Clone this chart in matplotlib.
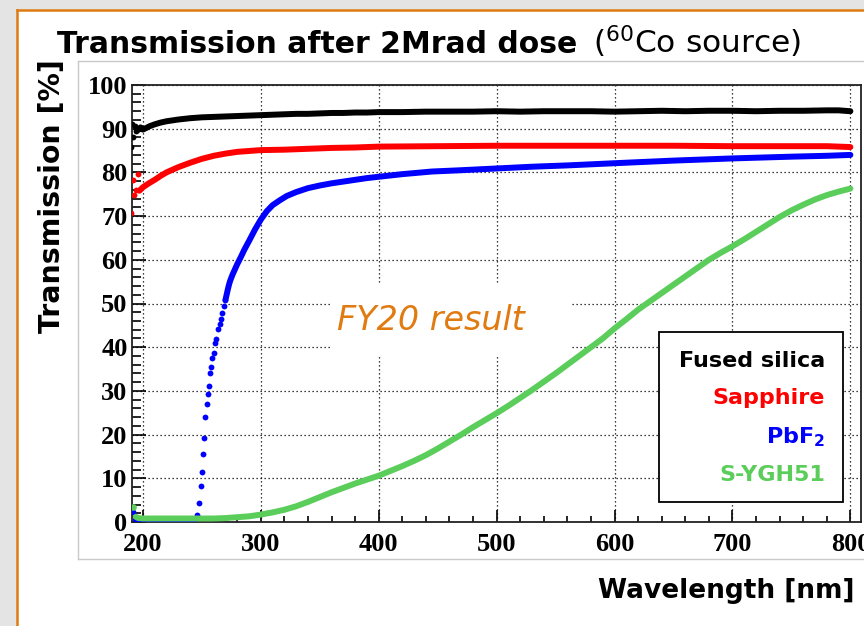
import matplotlib
matplotlib.use('Agg')
import matplotlib.pyplot as plt
from matplotlib.patches import Rectangle
from matplotlib.lines import Line2D
from matplotlib.ticker import MultipleLocator

# ---------------- data ----------------
silica_scatter_wl = [190, 191, 192, 193, 194]
silica_scatter_T = [85.9, 91.0, 88.0, 90.6, 89.4]
silica_wl = [196, 198, 200, 203, 206, 210, 215, 220, 225, 230, 240, 250, 260, 270, 280, 290,
             300, 310, 320, 330, 340, 350, 360, 370, 380, 390, 400, 420, 440, 460, 480, 500,
             520, 540, 560, 580, 600, 620, 640, 660, 680, 700, 720, 740, 760, 780, 790, 800]
silica_T = [89.7, 90.3, 89.8, 90.2, 90.6, 91.0, 91.4, 91.7, 91.9, 92.1, 92.4, 92.6, 92.7, 92.8,
            92.9, 93.0, 93.1, 93.2, 93.3, 93.4, 93.4, 93.5, 93.6, 93.6, 93.7, 93.7, 93.8, 93.8,
            93.9, 93.9, 93.9, 94.0, 93.9, 94.0, 94.0, 94.0, 93.9, 94.0, 94.1, 94.0, 94.1, 94.1,
            94.0, 94.1, 94.1, 94.2, 94.2, 94.0]

sapphire_scatter_wl = [190, 191.5, 192.5, 194, 196]
sapphire_scatter_T = [70.7, 78.3, 74.8, 76.0, 79.6]
sapphire_wl = [197, 200, 205, 210, 215, 220, 230, 240, 250, 260, 270, 280, 290, 300, 320, 340,
               360, 380, 400, 450, 500, 550, 600, 650, 700, 750, 780, 800]
sapphire_T = [75.8, 76.6, 77.5, 78.3, 79.2, 80.0, 81.2, 82.2, 83.1, 83.8, 84.3, 84.7, 84.9, 85.1,
              85.2, 85.4, 85.6, 85.7, 85.9, 86.0, 86.1, 86.1, 86.1, 86.1, 86.0, 86.0, 86.0, 85.8]

pbf2_scatter_wl = [192, 246, 247.5, 249, 250, 251, 252, 253, 254, 255, 256, 257, 258, 259,
                   260, 261, 262, 263.5, 265, 266, 267, 268.5, 270]
pbf2_scatter_T = [2.4, 1.6, 4.3, 8.2, 11.5, 15.6, 19.3, 24.1, 26.9, 29.3, 31.2, 34.0, 35.5, 37.5,
                  38.6, 40.9, 41.9, 44.1, 45.3, 46.4, 47.9, 49.4, 50.8]
pbf2_low_wl = [194, 200, 210, 220, 230, 240, 245]
pbf2_low_T = [0.5, 0.5, 0.5, 0.5, 0.5, 0.5, 0.7]
pbf2_wl = [270, 271, 272, 273, 274, 276, 278, 280, 283, 286, 290, 295, 300, 305, 310, 316, 322,
           330, 340, 350, 360, 370, 380, 390, 400, 420, 445, 470, 500, 530, 560, 600, 650,
           700, 750, 780, 800]
pbf2_T = [50.8, 52.0, 53.2, 54.3, 55.2, 56.6, 57.8, 59.0, 60.6, 62.3, 64.3, 66.9, 69.2, 71.1,
          72.5, 73.6, 74.6, 75.5, 76.4, 77.0, 77.5, 77.9, 78.3, 78.7, 79.0, 79.6, 80.2,
          80.5, 80.9, 81.3, 81.6, 82.1, 82.7, 83.2, 83.6, 83.8, 84.0]

sygh_scatter_wl = [192]
sygh_scatter_T = [3.5]
sygh_wl = [194, 196, 200, 220, 240, 260, 270, 280, 290, 300, 310, 320, 330, 340, 350, 360, 370,
           380, 390, 400, 410, 420, 430, 440, 450, 460, 470, 480, 490, 500, 510, 520, 530, 540,
           550, 560, 570, 580, 590, 600, 610, 620, 630, 640, 650, 660, 670, 680, 690, 700, 710,
           720, 730, 740, 750, 760, 770, 780, 790, 800]
sygh_T = [1.2, 0.9, 0.8, 0.8, 0.8, 0.8, 0.9, 1.1, 1.3, 1.7, 2.2, 2.8, 3.6, 4.6, 5.7, 6.8, 7.8,
          8.8, 9.7, 10.6, 11.7, 12.8, 14.0, 15.3, 16.8, 18.4, 20.0, 21.7, 23.3, 24.9, 26.6, 28.4,
          30.2, 32.1, 34.0, 36.0, 38.0, 40.0, 42.0, 44.3, 46.4, 48.6, 50.5, 52.4, 54.3, 56.2,
          58.1, 60.0, 61.6, 63.1, 64.7, 66.4, 68.1, 69.8, 71.3, 72.6, 73.8, 74.8, 75.6, 76.3]

legend_labels = ['Fused silica', 'Sapphire', 'PbF$_\\mathbf{2}$', 'S-YGH51']
colors = ['#000000', '#ff0000', '#0000ff', '#5acd5a']
x_ticks = [200, 300, 400, 500, 600, 700, 800]
y_ticks = [0, 10, 20, 30, 40, 50, 60, 70, 80, 90, 100]

W, H = 864, 626


def fx(px):
    return px / W


def fy(py):
    return 1 - py / H


fig = plt.figure(figsize=(W / 100, H / 100), dpi=100)
fig.patch.set_facecolor('white')

# slide background and frame
fig.add_artist(Rectangle((0, 0), 1, 1, transform=fig.transFigure, facecolor='#e4e4e4',
                         edgecolor='none', zorder=-10))
fig.add_artist(Rectangle((fx(17), 0), 1, fy(10), transform=fig.transFigure, facecolor='white',
                         edgecolor='none', zorder=-9))
orange = '#e07b12'
fig.add_artist(Line2D([fx(17), fx(17)], [0, fy(10)], color=orange, lw=1.8,
                      transform=fig.transFigure))
fig.add_artist(Line2D([fx(17), 1], [fy(10), fy(10)], color=orange, lw=1.8,
                      transform=fig.transFigure))
gray = '#c9c9c9'
fig.add_artist(Line2D([fx(78), 1], [fy(61), fy(61)], color=gray, lw=1, transform=fig.transFigure))
fig.add_artist(Line2D([fx(78), 1], [fy(559), fy(559)], color=gray, lw=1, transform=fig.transFigure))
fig.add_artist(Line2D([fx(78), fx(78)], [fy(61), fy(559)], color=gray, lw=1,
                      transform=fig.transFigure))

ax = fig.add_axes([fx(131.7), fy(522), (861 - 131.7) / W, (522 - 85) / H])
ax.set_xlim(190.5, 809)
ax.set_ylim(0, 100)
ax.set_axisbelow(True)

ms = 4.2
lw = 4.3
series = [
    (silica_scatter_wl, silica_scatter_T, silica_wl, silica_T),
    (sapphire_scatter_wl, sapphire_scatter_T, sapphire_wl, sapphire_T),
    (pbf2_scatter_wl, pbf2_scatter_T, pbf2_wl, pbf2_T),
]
ax.plot(pbf2_low_wl, pbf2_low_T, color=colors[2], lw=lw, solid_capstyle='round', zorder=3)
for (swl, sT, wl, T), c in zip(series, colors[:3]):
    ax.plot(wl, T, color=c, lw=lw, solid_capstyle='round', zorder=3)
    ax.plot(swl, sT, 'o', color=c, ms=ms, mec='none', zorder=3)
ax.plot(sygh_wl, sygh_T, color=colors[3], lw=lw, solid_capstyle='round', zorder=4)
ax.plot(sygh_scatter_wl, sygh_scatter_T, 'o', color=colors[3], ms=ms + 0.6, mec='none', zorder=4)

ax.grid(True, which='major', color='black', linestyle=(0, (1, 2.2)), lw=0.9)
ax.xaxis.set_major_locator(MultipleLocator(100))
ax.xaxis.set_minor_locator(MultipleLocator(20))
ax.yaxis.set_major_locator(MultipleLocator(10))
ax.yaxis.set_minor_locator(MultipleLocator(2))
ax.set_xticks(x_ticks)
ax.set_yticks(y_ticks)
ax.set_xticklabels([str(v) for v in x_ticks])
ax.set_yticklabels([str(v) for v in y_ticks])
ax.tick_params(axis='both', which='both', direction='in', top=False, right=False, width=1.2,
               colors='black')
ax.tick_params(axis='x', which='major', length=8.5, pad=8)
ax.tick_params(axis='x', which='minor', length=4.5)
ax.tick_params(axis='y', which='major', length=10, pad=3)
ax.tick_params(axis='y', which='minor', length=6.5)
for lab in ax.get_xticklabels() + ax.get_yticklabels():
    lab.set_fontfamily('Liberation Serif')
    lab.set_fontweight('bold')
    lab.set_fontsize(19)
for s in ax.spines.values():
    s.set_linewidth(1.3)
    s.set_color('#222222')

# FY20 result pave
ax.add_patch(Rectangle(((330 - 131.7) / 729.3, (522 - 357) / 437), (570 - 330) / 729.3,
                       (357 - 285) / 437, transform=ax.transAxes, facecolor='white',
                       edgecolor='none', zorder=1.5))
ax.text((337 - 131.7) / 729.3, (522 - 330) / 437, 'FY20 result', transform=ax.transAxes,
        fontsize=24, style='italic', color=orange, ha='left', va='baseline',
        family='DejaVu Sans', zorder=5)

# legend box
ax.add_patch(Rectangle(((658.7 - 131.7) / 729.3, (522 - 502) / 437), (842.7 - 658.7) / 729.3,
                       (502 - 332) / 437, transform=ax.transAxes, facecolor='white',
                       edgecolor='black', lw=1.3, zorder=6))
leg_y = [361, 398, 437, 475]
for lab, c, py in zip(legend_labels, colors, leg_y):
    ax.text((825 - 131.7) / 729.3, (522 - py) / 437, lab, transform=ax.transAxes,
            fontsize=16, fontweight='bold', color=c, ha='right', va='center',
            family='DejaVu Sans', zorder=7)

# titles and axis labels
t1 = fig.text(fx(57), fy(53), 'Transmission after 2Mrad dose', fontsize=21.5,
              fontweight='bold', ha='left', va='baseline', family='DejaVu Sans')
fig.canvas.draw()
bb = t1.get_window_extent(fig.canvas.get_renderer())
fig.text(bb.x1 / W + fx(16), fy(53), '($^{60}$Co source)', fontsize=22.5, ha='left',
         va='baseline', family='DejaVu Sans')

fig.text(fx(52), fy(196), 'Transmission [%]', rotation=90, fontsize=20.4, fontweight='bold',
         ha='center', va='center', family='DejaVu Sans')
fig.text(fx(855), fy(591), 'Wavelength [nm]', fontsize=19, fontweight='bold', ha='right',
         va='center', family='DejaVu Sans')

fig.savefig('out.png', dpi=100)
